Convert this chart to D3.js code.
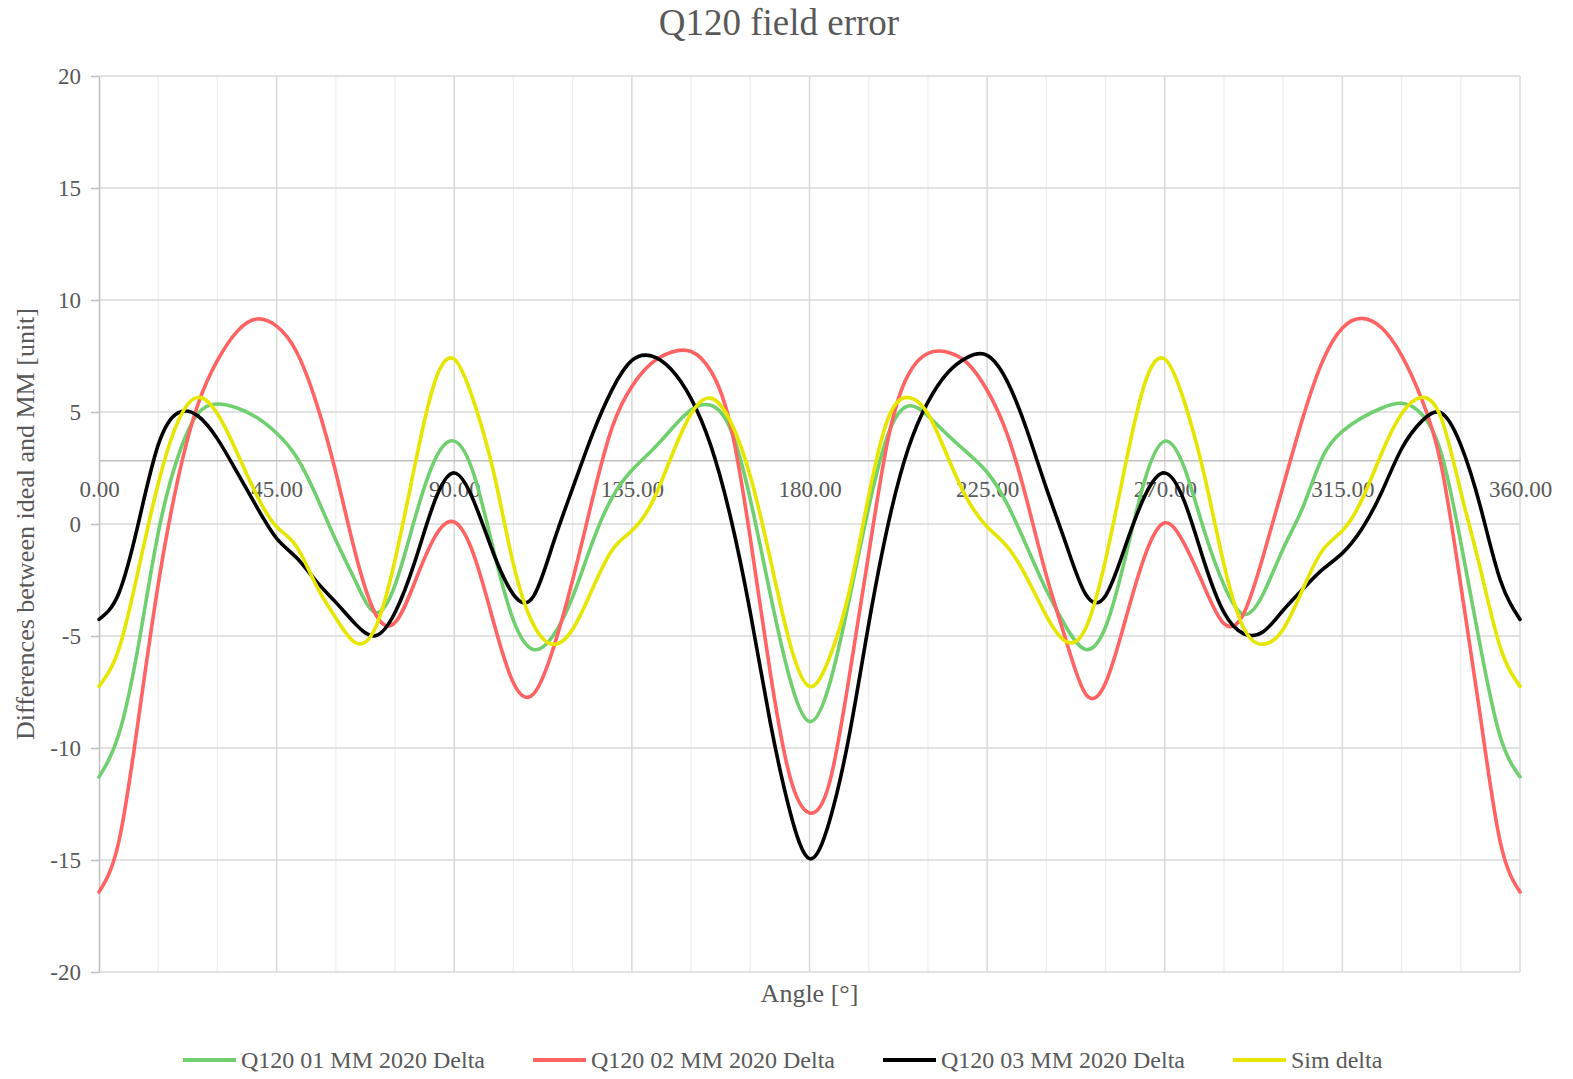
<!DOCTYPE html>
<html>
<head>
<meta charset="utf-8">
<script src="https://cdn.jsdelivr.net/npm/d3@7"></script>
<style>
  html, body { margin: 0; padding: 0; background: #fff; }
  svg text { font-family: "Liberation Serif", "Times New Roman", serif; fill: #595959; }
</style>
</head>
<body>
<svg id="chart" width="1573" height="1079"></svg>
<script>
// angles in degrees (shared x values)
const angles = [0, 5, 10, 15, 20, 25, 30, 35, 40, 45, 50, 55, 60, 65, 70, 75, 80, 85, 90, 95,
  100, 105, 110, 115, 120, 125, 130, 135, 140, 145, 150, 155, 160, 165, 170, 175, 180, 185, 190, 195,
  200, 205, 210, 215, 220, 225, 230, 235, 240, 245, 250, 255, 260, 265, 270, 275, 280, 285, 290, 295,
  300, 305, 310, 315, 320, 325, 330, 335, 340, 345, 350, 355, 360];

const q01 = [-11.29, -9.4, -5.4, -0.4, 3.0, 4.92, 5.36, 5.18, 4.75, 4.05, 3.0, 1.27, -0.73, -2.56, -3.95, -2.73, 0.23, 2.83, 3.7, 2.2,
  -1.2, -4.3, -5.6, -5.0, -3.25, -0.82, 1.18, 2.4, 3.27, 4.23, 5.1, 5.3, 4.23, 1.1, -3.08, -6.9, -8.82, -7.2, -3.43, 0.75,
  4.05, 5.27, 4.83, 3.97, 3.18, 2.31, 0.92, -0.99, -2.95, -4.6, -5.6, -4.6, -1.5, 2.0, 3.7, 2.49, -0.3, -2.73, -4.03, -3.1,
  -1.1, 0.75, 3.0, 4.14, 4.75, 5.18, 5.39, 4.92, 3.18, -0.82, -5.51, -9.5, -11.29];

const q02 = [-16.43, -14.2, -8.7, -2.7, 2.0, 5.3, 7.3, 8.6, 9.15, 8.83, 7.7, 5.44, 2.3, -1.34, -4.0, -4.4, -2.6, -0.6, 0.09, -1.4,
  -4.4, -7.1, -7.6, -5.6, -2.5, 1.1, 4.31, 6.14, 7.18, 7.67, 7.7, 6.83, 4.4, -0.64, -6.56, -11.25, -12.9, -11.6, -6.9, -1.34,
  3.88, 6.66, 7.62, 7.67, 7.18, 5.97, 4.05, 1.1, -2.3, -5.2, -7.6, -7.1, -4.3, -1.4, 0.05, -0.9, -2.8, -4.45, -4.0, -1.4,
  1.7, 4.75, 7.27, 8.75, 9.18, 8.75, 7.53, 5.62, 2.66, -2.73, -8.64, -14.2, -16.43];

const q03 = [-4.26, -3.1, 0.05, 3.53, 4.96, 4.83, 3.8, 2.3, 0.75, -0.64, -1.5, -2.55, -3.5, -4.47, -4.99, -3.95, -1.69, 1.0, 2.28, 1.0,
  -1.34, -3.15, -3.25, -0.9, 1.6, 4.0, 6.0, 7.3, 7.5, 6.9, 5.6, 3.5, 0.3, -3.95, -8.8, -12.8, -14.94, -13.3, -9.5, -4.47,
  0.05, 3.36, 5.44, 6.75, 7.44, 7.53, 6.4, 4.23, 1.6, -0.9, -3.15, -3.2, -1.0, 1.27, 2.28, 1.0, -1.69, -3.95, -4.9, -4.8,
  -3.85, -2.9, -2.03, -1.3, -0.2, 1.44, 3.36, 4.57, 4.96, 3.53, 0.75, -2.5, -4.26];

const sim = [-7.25, -5.6, -2.03, 1.8, 4.57, 5.65, 4.92, 3.18, 1.27, -0.12, -0.99, -2.73, -4.2, -5.3, -4.64, -1.6, 2.6, 6.31, 7.36, 5.44,
  2.3, -1.8, -4.47, -5.37, -4.7, -2.9, -1.17, -0.3, 0.92, 3.0, 4.92, 5.62, 4.57, 2.14, -1.51, -5.3, -7.25, -6.0, -3.08, 1.27,
  4.75, 5.65, 4.92, 3.0, 1.1, -0.12, -0.99, -2.38, -4.1, -5.25, -4.64, -1.6, 2.6, 6.31, 7.36, 5.44, 2.2, -1.8, -4.64, -5.37,
  -4.7, -2.9, -1.17, -0.3, 1.1, 3.18, 4.92, 5.65, 4.75, 1.44, -2.03, -5.51, -7.25];

const seriesNames = ['Q120 01 MM 2020 Delta', 'Q120 02 MM 2020 Delta', 'Q120 03 MM 2020 Delta', 'Sim delta'];
const seriesColors = ['#70d070', '#ff6363', '#000000', '#e6e600'];
const seriesValues = [q01, q02, q03, sim];

const yTicks = [-20, -15, -10, -5, 0, 5, 10, 15, 20];
const xMajorTicks = [0, 45, 90, 135, 180, 225, 270, 315, 360];
const xMinorTicks = [15, 30, 60, 75, 105, 120, 150, 165, 195, 210, 240, 255, 285, 300, 330, 345];
const xAxisCross = 2.85;

const svg = d3.select('#chart');
const margin = { left: 99, right: 53, top: 76, bottom: 107 };
const W = 1573, H = 1079;

const x = d3.scaleLinear().domain([0, 360]).range([margin.left, W - margin.right]);
const y = d3.scaleLinear().domain([-20, 20]).range([H - margin.bottom, margin.top]);

// minor vertical grid
svg.append('g')
  .selectAll('line')
  .data(xMinorTicks)
  .join('line')
    .attr('x1', d => x(d)).attr('x2', d => x(d))
    .attr('y1', y(20)).attr('y2', y(-20))
    .attr('stroke', '#efefef').attr('stroke-width', 1.3);

// major vertical grid
svg.append('g')
  .selectAll('line')
  .data(xMajorTicks.slice(1))
  .join('line')
    .attr('x1', d => x(d)).attr('x2', d => x(d))
    .attr('y1', y(20)).attr('y2', y(-20))
    .attr('stroke', '#d9d9d9').attr('stroke-width', 1.5);

// horizontal grid
svg.append('g')
  .selectAll('line')
  .data(yTicks)
  .join('line')
    .attr('x1', x(0)).attr('x2', x(360))
    .attr('y1', d => y(d)).attr('y2', d => y(d))
    .attr('stroke', '#d9d9d9').attr('stroke-width', 1.5);

// y axis
const yAxis = svg.append('g')
  .attr('transform', `translate(${x(0)},0)`)
  .call(d3.axisLeft(y).tickValues(yTicks).tickFormat(d => String(d))
    .tickSize(8).tickPadding(10).tickSizeOuter(0));
yAxis.select('.domain').attr('stroke', '#bfbfbf').attr('stroke-width', 1.5);
yAxis.selectAll('.tick line').attr('stroke', '#bfbfbf').attr('stroke-width', 1.5);
yAxis.selectAll('.tick text')
  .style('font-family', '"Liberation Serif", "Times New Roman", serif')
  .style('font-size', '23px').attr('fill', '#595959');

// x axis crossing at xAxisCross
const xAxis = svg.append('g')
  .attr('transform', `translate(0,${y(xAxisCross)})`)
  .call(d3.axisBottom(x).tickValues(xMajorTicks).tickFormat(d3.format('.2f'))
    .tickSize(0).tickPadding(21).tickSizeOuter(0));
xAxis.select('.domain').attr('stroke', '#bfbfbf').attr('stroke-width', 1.5);
xAxis.selectAll('.tick text')
  .style('font-family', '"Liberation Serif", "Times New Roman", serif')
  .style('font-size', '23px').attr('fill', '#595959');

// series
const line = d3.line()
  .x((d, i) => x(angles[i]))
  .y(d => y(d))
  .curve(d3.curveNatural);

svg.append('g')
  .selectAll('path')
  .data(seriesValues)
  .join('path')
    .attr('d', d => line(d))
    .attr('fill', 'none')
    .attr('stroke', (d, i) => seriesColors[i])
    .attr('stroke-width', 3.6)
    .attr('stroke-linejoin', 'round')
    .attr('stroke-linecap', 'round');

// title
svg.append('text')
  .attr('x', 779).attr('y', 35)
  .attr('text-anchor', 'middle')
  .style('font-size', '37px')
  .text('Q120 field error');

// axis titles
svg.append('text')
  .attr('x', x(180)).attr('y', 1002)
  .attr('text-anchor', 'middle')
  .style('font-size', '26px')
  .text('Angle [°]');

svg.append('text')
  .attr('transform', `translate(34,${y(0)}) rotate(-90)`)
  .attr('text-anchor', 'middle')
  .style('font-size', '26px')
  .text('Differences between ideal and MM [unit]');

// legend
const legend = svg.append('g')
  .selectAll('g')
  .data(seriesNames)
  .join('g')
    .attr('transform', (d, i) => `translate(${183 + i * 350},1060)`);
legend.append('line')
  .attr('x1', 0).attr('x2', 53).attr('y1', 0).attr('y2', 0)
  .attr('stroke', (d, i) => seriesColors[i])
  .attr('stroke-width', 4);
legend.append('text')
  .attr('x', 58).attr('y', 8)
  .style('font-size', '24px')
  .text(d => d);
</script>
</body>
</html>
